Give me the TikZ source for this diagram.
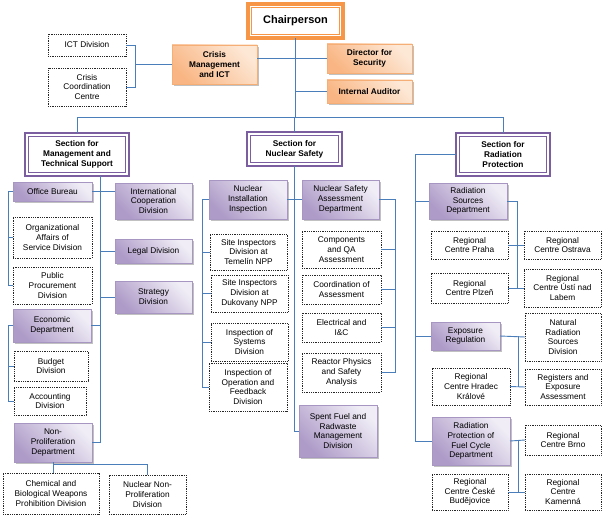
\documentclass[tikz,border=0pt]{standalone}
\usepackage{fontspec}
\setmainfont{Liberation Sans}
\usetikzlibrary{calc,shadows}
\definecolor{linkblue}{HTML}{4A7EBB}
\definecolor{purpledark}{HTML}{AE9BC8}
\definecolor{purplelight}{HTML}{F0EDF6}
\definecolor{purpleedge}{HTML}{A896C2}
\definecolor{secpurple}{HTML}{7B5EA0}
\definecolor{orangedark}{HTML}{F9B684}
\definecolor{orangelight}{HTML}{FDE8D6}
\definecolor{orangeedge}{HTML}{F5AE76}
\definecolor{chairorange}{HTML}{F79646}
\tikzset{
  every node/.style={font=\fontsize{8.3}{9.8}\selectfont, align=center, inner sep=1pt, outer sep=0pt},
  dbox/.style={draw=black!85, densely dotted, line width=0.8pt, fill=white},
  pbox/.style={draw=purpleedge, line width=0.6pt, left color=purpledark, right color=purplelight, shading angle=135,
    drop shadow={shadow xshift=1.6pt, shadow yshift=-1.6pt, fill=black!40, opacity=0.6}},
  obox/.style={draw=orangeedge, line width=0.6pt, left color=orangedark, right color=orangelight, shading angle=135,
    font=\fontsize{8.3}{9.8}\selectfont\bfseries,
    drop shadow={shadow xshift=1.6pt, shadow yshift=-1.6pt, fill=black!40, opacity=0.6}},
  secbox/.style={draw=secpurple, line width=2.8pt, fill=white, font=\fontsize{8.3}{9.8}\selectfont\bfseries},
  secin/.style={draw=secpurple, line width=0.6pt},
  chairbox/.style={draw=chairorange, line width=3.2pt, fill=white, font=\fontsize{11}{13}\selectfont\bfseries},
  chairin/.style={draw=chairorange, line width=0.6pt},
  link/.style={draw=linkblue, line width=0.9pt},
}
\newcommand\nb[7]{\node[#1, minimum width={(#5)-(#3)}, minimum height={(#6)-(#4)}] (#2) at ({((#3)+(#5))/2},{((#4)+(#6))/2}) {#7};}
\begin{document}
\begin{tikzpicture}[x=1pt,y=-1pt]
\fill[white] (0,0) rectangle (605,519);
\useasboundingbox (0,0) rectangle (605,519);
% top
\nb{chairbox}{chair}{248}{4}{343}{38}{Chairperson}
\draw[chairin] ($(chair.north west)+(3.6,3.6)$) rectangle ($(chair.south east)+(-3.6,-3.6)$);
\nb{dbox}{ict}{48}{34}{126}{56}{ICT Division}
\nb{dbox}{ccc}{48}{68}{126}{106}{Crisis\\Coordination\\Centre}
\nb{obox}{cm}{172}{45}{257}{84}{Crisis\\Management\\and ICT}
\nb{obox}{dir}{327}{44}{412}{73}{Director for\\Security}
\nb{obox}{ia}{327}{80}{412}{103}{Internal Auditor}
% sections
\nb{secbox}{smt}{25}{133}{129}{176}{Section for\\Management and\\Technical Support}
\nb{secbox}{ns}{247}{132}{342}{166}{Section for\\Nuclear Safety}
\nb{secbox}{rp}{456}{133}{550}{176}{Section for\\Radiation\\Protection}
\foreach \s in {smt,ns,rp}{
  \draw[secin] ($(\s.north west)+(3.4,3.4)$) rectangle ($(\s.south east)+(-3.4,-3.4)$);
}
% left column
\nb{pbox}{ob}{13}{182}{92}{201}{Office Bureau}
\nb{pbox}{ic}{115}{183}{192}{219}{International\\Cooperation\\Division}
\nb{dbox}{oa}{13}{217}{92}{258}{Organizational\\Affairs of\\Service Division}
\nb{pbox}{lg}{115}{239}{192}{263}{Legal Division}
\nb{dbox}{pp}{13}{267}{92}{304}{Public\\Procurement\\Division}
\nb{pbox}{sd}{115}{281}{192}{313}{Strategy\\Division}
\nb{pbox}{ec}{13}{309}{91}{342}{Economic\\Department}
\nb{dbox}{bud}{14}{351}{88}{381}{Budget\\Division}
\nb{dbox}{acc}{14}{387}{86}{415}{Accounting\\Division}
\nb{pbox}{np}{14}{423}{92}{462}{Non-\\Proliferation\\Department}
\nb{dbox}{chem}{3}{473}{99}{514}{Chemical and\\Biological Weapons\\Prohibition Division}
\nb{dbox}{nnp}{109}{475}{186}{514}{Nuclear Non-\\Proliferation\\Division}
% middle column
\nb{pbox}{nii}{209}{180}{287}{219}{Nuclear\\Installation\\Inspection}
\nb{pbox}{nsa}{302}{180}{379}{219}{Nuclear Safety\\Assessment\\Department}
\nb{dbox}{st}{210}{234}{287}{270}{Site Inspectors\\Division at\\Temelín NPP}
\nb{dbox}{sdu}{211}{275}{288}{312}{Site Inspectors\\Division at\\Dukovany NPP}
\nb{dbox}{isy}{211}{323}{288}{361}{Inspection of\\Systems\\Division}
\nb{dbox}{iof}{209}{363}{287}{411}{Inspection of\\Operation and\\Feedback\\Division}
\nb{dbox}{cqa}{302}{231}{381}{268}{Components\\and QA\\Assessment}
\nb{dbox}{coa}{302}{275}{381}{304}{Coordination of\\Assessment}
\nb{dbox}{eic}{302}{313}{381}{342}{Electrical and\\I\&C}
\nb{dbox}{rps}{302}{353}{381}{392}{Reactor Physics\\and Safety\\Analysis}
\nb{pbox}{sf}{299}{405}{377}{457}{Spent Fuel and\\Radwaste\\Management\\Division}
% right column
\nb{pbox}{rs}{429}{183}{507}{219}{Radiation\\Sources\\Department}
\nb{dbox}{pra}{431}{231}{508}{259}{Regional\\Centre Praha}
\nb{dbox}{ost}{524}{231}{601}{259}{Regional\\Centre Ostrava}
\nb{dbox}{plz}{431}{273}{508}{303}{Regional\\Centre Plzeň}
\nb{dbox}{ust}{524}{269}{601}{307}{Regional\\Centre Ústí nad\\Labem}
\nb{pbox}{er}{431}{322}{500}{350}{Exposure\\Regulation}
\nb{dbox}{nat}{525}{313}{601}{361}{Natural\\Radiation\\Sources\\Division}
\nb{dbox}{hk}{432}{368}{510}{405}{Regional\\Centre Hradec\\Králové}
\nb{dbox}{reg}{525}{369}{601}{405}{Registers and\\Exposure\\Assessment}
\nb{pbox}{rpf}{432}{417}{510}{465}{Radiation\\Protection of\\Fuel Cycle\\Department}
\nb{dbox}{brno}{525}{425}{601}{455}{Regional\\Centre Brno}
\nb{dbox}{cb}{432}{474}{508}{510}{Regional\\Centre České\\Budějovice}
\nb{dbox}{kam}{525}{474}{601}{510}{Regional\\Centre\\Kamenná}
% helper coordinates
\coordinate (b1) at (135,0);
\coordinate (hb) at (0,117);
\coordinate (v1) at (100,0);
\coordinate (lb) at (8,0);
\coordinate (hl) at (0,464);
\coordinate (b6) at (202,0);
\coordinate (b7) at (395,0);
\coordinate (v3) at (415,0);
\coordinate (b4) at (517,0);
\coordinate (b5) at (518,0);
% top connectors
\draw[link] (chair.south) -- (chair.south |- hb);
\draw[link] (smt.north) -- (smt.north |- hb) -- (rp.north |- hb) -- (rp.north);
\draw[link] (ns.north |- hb) -- (ns.north);
\draw[link] (dir.west) -- (dir.west -| cm.east);
\draw[link] (ia.west) -- (ia.west -| chair.south);
\draw[link] (ict.east) -- (ict.east -| b1) |- (ccc.east);
\draw[link] (cm.west) -- (cm.west -| b1);
% left connectors
\draw[link] (smt.south -| v1) |- (np.east);
\draw[link] (ob.east) -- (ob.east -| ic.west);
\draw[link] (v1 |- lg.west) -- (lg.west);
\draw[link] (v1 |- sd.west) -- (sd.west);
\draw[link] (v1 |- ec.east) -- (ec.east);
\draw[link] (ob.west) -- (ob.west -| lb) |- (pp.west);
\draw[link] (lb |- oa.west) -- (oa.west);
\draw[link] (ec.west) -- (ec.west -| lb) |- (acc.west);
\draw[link] (lb |- bud.west) -- (bud.west);
\draw[link] (np.south) -- (np.south |- chem.north);
\draw[link] (np.south |- hl) -| (nnp.north);
% middle connectors
\draw[link] (nii.east) -- (nsa.west);
\draw[link] (ns.south) |- (sf.west);
\draw[link] (nii.west) -- (nii.west -| b6) |- (iof.west);
\draw[link] (b6 |- st.west) -- (st.west);
\draw[link] (b6 |- sdu.west) -- (sdu.west);
\draw[link] (b6 |- isy.west) -- (isy.west);
\draw[link] (nsa.east) -- (nsa.east -| b7) |- (rps.east);
\draw[link] (b7 |- cqa.east) -- (cqa.east);
\draw[link] (b7 |- coa.east) -- (coa.east);
\draw[link] (b7 |- eic.east) -- (eic.east);
% right connectors
\draw[link] (rp.west) -- (rp.west -| v3) |- (rpf.west);
\draw[link] (v3 |- rs.west) -- (rs.west);
\draw[link] (v3 |- er.west) -- (er.west);
\draw[link] (rs.east) -| (b4 |- plz.east);
\draw[link] (pra.east) -- (ost.west);
\draw[link] (plz.east) -- (ust.west);
\draw[link] (er.east) -- (nat.west);
\draw[link] (b5 |- er.east) -- (b5 |- hk.east);
\draw[link] (hk.east) -- (reg.west);
\draw[link] (rpf.east) -- (brno.west);
\draw[link] (b5 |- rpf.east) -- (b5 |- cb.east);
\draw[link] (cb.east) -- (kam.west);
\end{tikzpicture}
\end{document}
